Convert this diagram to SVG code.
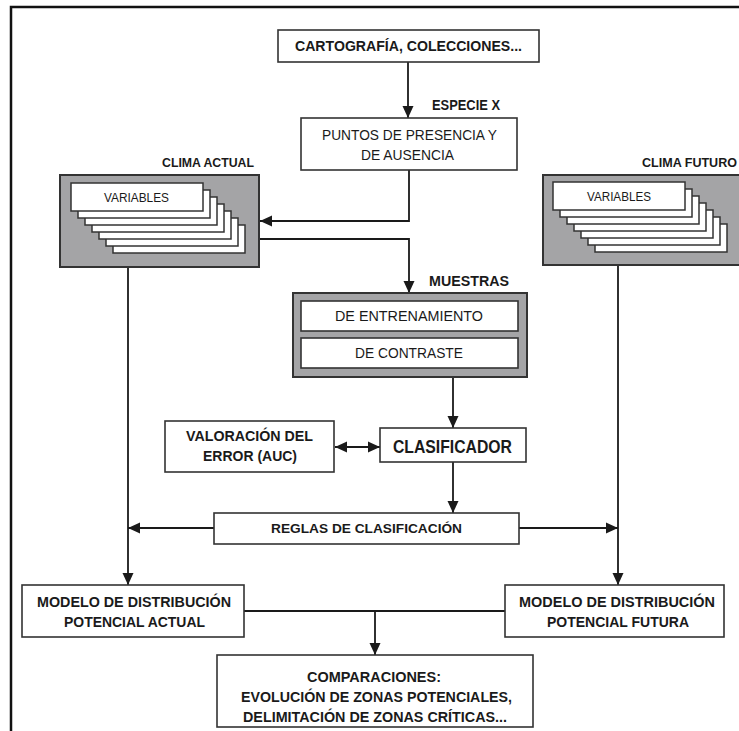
<svg xmlns="http://www.w3.org/2000/svg" width="739" height="731" viewBox="0 0 739 731">
<style>
text{font-family:"Liberation Sans",Arial,sans-serif;fill:#1a1a1a;text-anchor:middle}
.b{font-weight:bold}
.box{fill:#fff;stroke:#333;stroke-width:1.6}
.gray{fill:#a4a4a6;stroke:#333;stroke-width:2}
.card{fill:#fff;stroke:#333;stroke-width:1.5}
.ln{fill:none;stroke:#1a1a1a;stroke-width:1.8}
</style>
<defs>
<marker id="ah" markerUnits="userSpaceOnUse" markerWidth="12" markerHeight="12" viewBox="0 0 12 12" refX="12" refY="6" orient="auto-start-reverse">
<path d="M0,0.5 L12,6 L0,11.5 z" fill="#1a1a1a"/>
</marker>
</defs>
<rect width="739" height="731" fill="#fff"/>
<g id="border">
<path d="M11,731 V7 H739" fill="none" stroke="#111" stroke-width="2.5"/>
</g>
<g id="connectors">
<path class="ln" d="M408,62 V118" marker-end="url(#ah)"/>
<path class="ln" d="M409,170 V221 H260" marker-end="url(#ah)"/>
<path class="ln" d="M259,239 H409 V293" marker-end="url(#ah)"/>
<path class="ln" d="M453,377 V428" marker-end="url(#ah)"/>
<path class="ln" d="M335,447 H380" marker-start="url(#ah)" marker-end="url(#ah)"/>
<path class="ln" d="M453,462 V513" marker-end="url(#ah)"/>
<path class="ln" d="M214,528 H128" marker-end="url(#ah)"/>
<path class="ln" d="M519,528 H618" marker-end="url(#ah)"/>
<path class="ln" d="M128,267 V585" marker-end="url(#ah)"/>
<path class="ln" d="M618,265 V585" marker-end="url(#ah)"/>
<path class="ln" d="M244,611 H505"/>
<path class="ln" d="M375,611 V655" marker-end="url(#ah)"/>
</g>
<g id="cartografia">
<rect class="box" x="278" y="30" width="261" height="32"/>
<text class="b" x="408.5" y="51" font-size="15" textLength="227" lengthAdjust="spacingAndGlyphs">CARTOGRAFÍA, COLECCIONES...</text>
</g>
<g id="especie-label">
<text class="b" x="466" y="110" font-size="14" textLength="68" lengthAdjust="spacingAndGlyphs">ESPECIE X</text>
</g>
<g id="puntos">
<rect class="box" x="301" y="118" width="216" height="52"/>
<text x="409.5" y="140" font-size="14" textLength="175" lengthAdjust="spacingAndGlyphs">PUNTOS DE PRESENCIA Y</text>
<text x="407.5" y="160" font-size="14" textLength="93" lengthAdjust="spacingAndGlyphs">DE AUSENCIA</text>
</g>
<g id="clima-actual">
<text class="b" x="208" y="167" font-size="13" textLength="92" lengthAdjust="spacingAndGlyphs">CLIMA ACTUAL</text>
<rect class="gray" x="60" y="175" width="199" height="92"/>
<rect class="card" x="113" y="225" width="132" height="28"/>
<rect class="card" x="106" y="218" width="132" height="28"/>
<rect class="card" x="99" y="211" width="132" height="28"/>
<rect class="card" x="92" y="204" width="132" height="28"/>
<rect class="card" x="85" y="197" width="132" height="28"/>
<rect class="card" x="78" y="190" width="132" height="28"/>
<rect class="card" x="71" y="183" width="132" height="28"/>
<text x="136.5" y="202" font-size="12" textLength="65" lengthAdjust="spacingAndGlyphs">VARIABLES</text>
</g>
<g id="clima-futuro">
<text class="b" x="689.5" y="167" font-size="13" textLength="95" lengthAdjust="spacingAndGlyphs">CLIMA FUTURO</text>
<rect class="gray" x="543" y="175" width="200" height="90"/>
<rect class="card" x="595" y="224" width="132" height="28"/>
<rect class="card" x="588" y="217" width="132" height="28"/>
<rect class="card" x="581" y="210" width="132" height="28"/>
<rect class="card" x="574" y="203" width="132" height="28"/>
<rect class="card" x="567" y="196" width="132" height="28"/>
<rect class="card" x="560" y="189" width="132" height="28"/>
<rect class="card" x="553" y="182" width="132" height="28"/>
<text x="619" y="201" font-size="12" textLength="64" lengthAdjust="spacingAndGlyphs">VARIABLES</text>
</g>
<g id="muestras">
<text class="b" x="469" y="286" font-size="14" textLength="80" lengthAdjust="spacingAndGlyphs">MUESTRAS</text>
<rect class="gray" x="293" y="293" width="234" height="84"/>
<rect class="box" x="301" y="301" width="217" height="30"/>
<text x="409" y="321" font-size="14" textLength="148" lengthAdjust="spacingAndGlyphs">DE ENTRENAMIENTO</text>
<rect class="box" x="301" y="338" width="217" height="30"/>
<text x="409" y="358" font-size="14" textLength="108" lengthAdjust="spacingAndGlyphs">DE CONTRASTE</text>
</g>
<g id="valoracion">
<rect class="box" x="165" y="421" width="169" height="51"/>
<text class="b" x="249.5" y="441" font-size="14" textLength="127" lengthAdjust="spacingAndGlyphs">VALORACIÓN DEL</text>
<text class="b" x="250" y="461" font-size="14" textLength="94" lengthAdjust="spacingAndGlyphs">ERROR (AUC)</text>
</g>
<g id="clasificador">
<rect class="box" x="380" y="428" width="146" height="34"/>
<text class="b" x="452.5" y="453" font-size="18" textLength="119" lengthAdjust="spacingAndGlyphs">CLASIFICADOR</text>
</g>
<g id="reglas">
<rect class="box" x="214" y="513" width="305" height="31"/>
<text class="b" x="366.5" y="533" font-size="13" textLength="191" lengthAdjust="spacingAndGlyphs">REGLAS DE CLASIFICACIÓN</text>
</g>
<g id="modelo-actual">
<rect class="box" x="22" y="585" width="222" height="52"/>
<text class="b" x="134" y="607" font-size="14" textLength="194" lengthAdjust="spacingAndGlyphs">MODELO DE DISTRIBUCIÓN</text>
<text class="b" x="134.5" y="627" font-size="14" textLength="141" lengthAdjust="spacingAndGlyphs">POTENCIAL ACTUAL</text>
</g>
<g id="modelo-futura">
<rect class="box" x="505" y="585" width="219" height="52"/>
<text class="b" x="617" y="607" font-size="14" textLength="196" lengthAdjust="spacingAndGlyphs">MODELO DE DISTRIBUCIÓN</text>
<text class="b" x="618" y="627" font-size="14" textLength="142" lengthAdjust="spacingAndGlyphs">POTENCIAL FUTURA</text>
</g>
<g id="comparaciones">
<rect class="box" x="217" y="655" width="316" height="72"/>
<text class="b" x="374" y="682" font-size="14" textLength="134" lengthAdjust="spacingAndGlyphs">COMPARACIONES:</text>
<text class="b" x="376.5" y="702" font-size="14" textLength="271" lengthAdjust="spacingAndGlyphs">EVOLUCIÓN DE ZONAS POTENCIALES,</text>
<text class="b" x="375" y="722" font-size="14" textLength="264" lengthAdjust="spacingAndGlyphs">DELIMITACIÓN DE ZONAS CRÍTICAS...</text>
</g>
</svg>
